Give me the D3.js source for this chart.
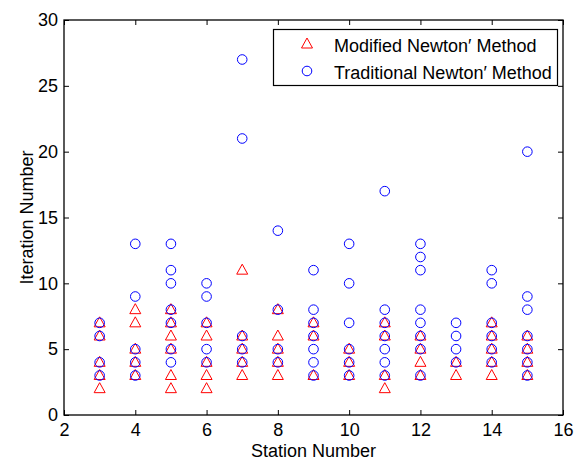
<!DOCTYPE html>
<html><head><meta charset="utf-8">
<script src="https://cdn.jsdelivr.net/npm/d3@7"></script>
<style>body{margin:0;background:#fff;} svg{display:block;font-family:"Liberation Sans",Arial,Helvetica,sans-serif;}</style>
</head><body>
<svg id="c" width="575" height="462"></svg>
<script>
const stations = [3,4,5,6,7,8,9,10,11,12,13,14,15];
const modifiedVals = [
  [7,6,4,3,2],[8,7,5,4,3],[8,7,6,5,3,2],[7,6,4,3,2],[11,6,5,4,3],[8,6,5,4,3],
  [7,6,3],[5,4,3],[7,6,3,2],[6,5,4,3],[4,3],[7,6,5,4,3],[6,5,4,3]
];
const traditionalVals = [
  [7,6,4,3],[13,9,5,4,3],[13,11,10,8,7,5,4],[10,9,7,5,4],[27,21,6,5,4],[14,8,5,4],
  [11,8,7,6,5,4,3],[13,10,7,5,4,3],[17,8,7,6,5,4,3],[13,12,11,8,7,6,5,3],[7,6,5,4],
  [11,10,7,6,5,4],[20,9,8,6,5,4,3]
];
const xTicks = [2,4,6,8,10,12,14,16];
const yTicks = [0,5,10,15,20,25,30];
const seriesNames = ["Modified Newton\u2032 Method","Traditional Newton\u2032 Method"];

const svg = d3.select("#c");
const L=64, R=563, T=20, B=415;
const x = d3.scaleLinear().domain([2,16]).range([L,R]);
const y = d3.scaleLinear().domain([0,30]).range([B,T]);

const modPts = [], tradPts = [];
stations.forEach((s,i)=>{
  modifiedVals[i].forEach(v=>modPts.push([s,v]));
  traditionalVals[i].forEach(v=>tradPts.push([s,v]));
});

const triPath = "M0,-6L5.5,4L-5.5,4Z";
const g = svg.append("g");
g.selectAll("path.tri").data(modPts).enter().append("path")
  .attr("d", triPath)
  .attr("transform", d=>`translate(${x(d[0])},${y(d[1])})`)
  .attr("fill","none").attr("stroke","#ff0000").attr("stroke-width",1);
g.selectAll("circle.tr").data(tradPts).enter().append("circle")
  .attr("cx", d=>x(d[0])).attr("cy", d=>y(d[1])).attr("r",4.8)
  .attr("fill","none").attr("stroke","#0000ff").attr("stroke-width",1);

// axes
const fs = 18;
const axB = svg.append("g").attr("transform",`translate(0,${B})`)
  .call(d3.axisBottom(x).tickValues(xTicks).tickSizeInner(-5).tickSizeOuter(0).tickPadding(8));
const axT = svg.append("g").attr("transform",`translate(0,${T})`)
  .call(d3.axisTop(x).tickValues(xTicks).tickSizeInner(-5).tickSizeOuter(0).tickFormat(""));
const axL = svg.append("g").attr("transform",`translate(${L},0)`)
  .call(d3.axisLeft(y).tickValues(yTicks).tickSizeInner(-5).tickSizeOuter(0).tickPadding(6));
const axR = svg.append("g").attr("transform",`translate(${R},0)`)
  .call(d3.axisRight(y).tickValues(yTicks).tickSizeInner(-5).tickSizeOuter(0).tickFormat(""));
[axB,axT,axL,axR].forEach(a=>{
  a.selectAll(".domain").remove();
  a.selectAll("line").attr("stroke","#000").attr("stroke-width",1);
  a.selectAll("text").attr("font-size",fs).attr("fill","#000").attr("font-family","Liberation Sans, Arial, sans-serif");
});
axB.selectAll("text").attr("dy","0.71em");
svg.append("rect").attr("x",L).attr("y",T).attr("width",R-L).attr("height",B-T)
  .attr("fill","none").attr("stroke","#000").attr("stroke-width",1.3);

svg.append("text").attr("x",(L+R)/2).attr("y",457).attr("text-anchor","middle")
  .attr("font-size",fs).text("Station Number");
svg.append("text").attr("transform",`translate(33,${(T+B)/2}) rotate(-90)`).attr("text-anchor","middle")
  .attr("font-size",fs).text("Iteration Number");

// legend
const lg = svg.append("g");
lg.append("rect").attr("x",273.5).attr("y",29.5).attr("width",284).attr("height",56)
  .attr("fill","#fff").attr("stroke","#000").attr("stroke-width",1.2);
lg.append("path").attr("d",triPath).attr("transform","translate(307,44)")
  .attr("fill","none").attr("stroke","#ff0000");
lg.append("circle").attr("cx",307).attr("cy",71).attr("r",4.8).attr("fill","none").attr("stroke","#0000ff");
lg.append("text").attr("x",334).attr("y",51.5).attr("font-size",fs).text(seriesNames[0]);
lg.append("text").attr("x",334).attr("y",79).attr("font-size",fs).text(seriesNames[1]);
</script>
</body></html>
